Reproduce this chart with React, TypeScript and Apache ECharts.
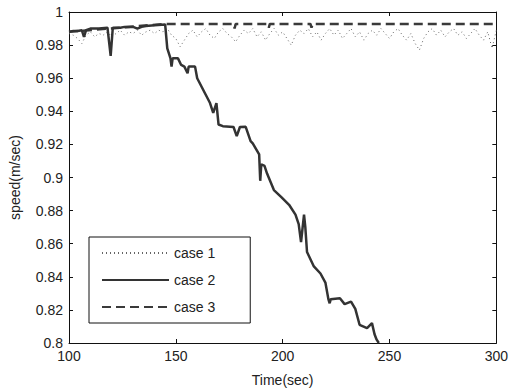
import React, { useEffect, useRef } from "react";
import * as echarts from "echarts";

const xTicks = [100, 150, 200, 250, 300];
const yTickLabels = ["0.8", "0.82", "0.84", "0.86", "0.88", "0.9", "0.92", "0.94", "0.96", "0.98", "1"];

const case1Time = [
  100, 102, 104, 106, 108, 110, 112, 114, 116, 118, 120, 122, 124, 126, 128, 130, 132, 134, 136, 138,
  140, 142, 144, 146, 148, 150, 152, 154, 156, 158, 160, 162, 164, 166, 168, 170, 172, 174, 176, 178,
  180, 182, 184, 186, 188, 190, 192, 194, 196, 198, 200, 202, 204, 206, 208, 210, 212, 214, 216, 218,
  220, 222, 224, 226, 228, 230, 232, 234, 236, 238, 240, 242, 244, 246, 248, 250, 252, 254, 256, 258,
  260, 262, 264, 266, 268, 270, 272, 274, 276, 278, 280, 282, 284, 286, 288, 290, 292, 294, 296, 298, 300,
];
const case1Speed = [
  0.987, 0.986, 0.984, 0.981, 0.986, 0.988, 0.985, 0.987, 0.986, 0.988, 0.985, 0.987, 0.989, 0.986, 0.988, 0.987, 0.989, 0.986, 0.988, 0.989,
  0.987, 0.989, 0.988, 0.990, 0.986, 0.984, 0.979, 0.983, 0.987, 0.989, 0.985, 0.988, 0.990, 0.986, 0.984, 0.988, 0.990, 0.987, 0.985, 0.982,
  0.986, 0.989, 0.987, 0.990, 0.985, 0.988, 0.983, 0.987, 0.990, 0.986, 0.988, 0.984, 0.980, 0.986, 0.989, 0.987, 0.990, 0.985, 0.988, 0.983,
  0.987, 0.990, 0.986, 0.989, 0.984, 0.987, 0.990, 0.985, 0.988, 0.983, 0.987, 0.989, 0.986, 0.990, 0.987, 0.984, 0.988, 0.990, 0.986, 0.983,
  0.987, 0.981, 0.977, 0.984, 0.988, 0.990, 0.986, 0.989, 0.985, 0.988, 0.990, 0.986, 0.988, 0.984, 0.987, 0.990, 0.986, 0.983, 0.988, 0.978, 0.989,
];

const case2Time = [
  100, 102, 104, 106, 107, 108, 110, 114, 118, 119.5, 120.5, 124, 126, 130, 132, 134, 136, 140, 145,
  146, 147.5, 148, 148.5, 151, 152.5, 154, 155.5, 156, 159, 160, 162, 164, 166, 167.5, 169, 170, 172, 177,
  178.5, 180, 182.7, 185, 186, 189, 189.5, 190, 191.5, 192.7, 195.9, 199.5, 203, 206, 207.5, 208.6, 209.2,
  210, 210.6, 211.4, 214.5, 217.7, 220, 221.4, 222, 222.5, 226.8, 229, 232, 234, 236, 239.5, 241.8, 243, 244, 245,
];
const case2Speed = [
  0.988, 0.9885, 0.9885, 0.989, 0.985, 0.989, 0.990, 0.990, 0.9905, 0.9735, 0.9905, 0.9905, 0.991, 0.991, 0.990, 0.991, 0.9915, 0.992, 0.9925,
  0.978, 0.972, 0.967, 0.972, 0.972, 0.968, 0.967, 0.963, 0.967, 0.967, 0.960, 0.955, 0.950, 0.945, 0.939, 0.945, 0.932, 0.931, 0.9305,
  0.925, 0.9305, 0.9306, 0.922, 0.9206, 0.914, 0.898, 0.908, 0.907, 0.9024, 0.8924, 0.888, 0.8835, 0.8776, 0.8718, 0.861, 0.868,
  0.8776, 0.870, 0.855, 0.8465, 0.842, 0.8365, 0.8265, 0.824, 0.8265, 0.827, 0.8235, 0.825, 0.8206, 0.811, 0.809, 0.812, 0.8053, 0.802, 0.8,
];

const case3Time = [100, 145, 177, 177.5, 178, 193, 193.5, 194, 213, 213.5, 214, 300];
const case3Speed = [0.988, 0.9928, 0.9928, 0.990, 0.9928, 0.9928, 0.9905, 0.9928, 0.9928, 0.9905, 0.9928, 0.9928];

const seriesNames = ["case 1", "case 2", "case 3"];

const zip = (t: number[], v: number[]) => t.map((x, i) => [x, v[i]]);

export default function App() {
  const ref = useRef<HTMLDivElement>(null);
  useEffect(() => {
    if (!ref.current) return;
    const chart = echarts.init(ref.current, undefined, { renderer: "svg" });
    const font = "'Liberation Sans', Arial, sans-serif";
    const fmtY = (v: number) => {
      const s = parseFloat(v.toFixed(2)).toString();
      return yTickLabels.includes(s) ? s : "";
    };
    const fmtX = (v: number) => (xTicks.includes(Math.round(v)) ? String(Math.round(v)) : "");
    const baseX = {
      type: "value" as const,
      min: 100,
      max: 300,
      interval: 50,
      splitLine: { show: false },
      axisLine: { show: true, lineStyle: { color: "#111", width: 1 } },
      axisTick: { show: true, inside: true, length: 4, lineStyle: { color: "#111" } },
    };
    const baseY = {
      type: "value" as const,
      min: 0.8,
      max: 1,
      interval: 0.02,
      splitLine: { show: false },
      axisLine: { show: true, lineStyle: { color: "#111", width: 1 } },
      axisTick: { show: true, inside: true, length: 4, lineStyle: { color: "#111" } },
    };
    chart.setOption({
      animation: false,
      backgroundColor: "#fff",
      textStyle: { fontFamily: font },
      grid: { left: 61, right: 10, top: 12, bottom: 40, containLabel: false },
      xAxis: [
        {
          ...baseX,
          position: "bottom",
          name: "Time(sec)",
          nameLocation: "middle",
          nameGap: 30,
          nameTextStyle: { color: "#222", fontSize: 14, fontFamily: font },
          axisLabel: { color: "#222", fontSize: 14, margin: 6, fontFamily: font, formatter: fmtX },
        },
        { ...baseX, position: "top", axisLabel: { show: false } },
      ],
      yAxis: [
        {
          ...baseY,
          position: "left",
          name: "speed(m/sec)",
          nameLocation: "middle",
          nameGap: 47,
          nameTextStyle: { color: "#222", fontSize: 14, fontFamily: font },
          axisLabel: { color: "#222", fontSize: 14, margin: 6, fontFamily: font, formatter: fmtY },
        },
        { ...baseY, position: "right", axisLabel: { show: false } },
      ],
      legend: {
        orient: "vertical",
        left: 89,
        top: 237,
        padding: [9, 35, 9, 12],
        itemGap: 13,
        itemWidth: 67,
        itemHeight: 14,
        borderColor: "#111",
        borderWidth: 1,
        backgroundColor: "#fff",
        itemStyle: { opacity: 0 },
        textStyle: { color: "#222", fontSize: 14, fontFamily: font },
        data: seriesNames,
      },
      series: [
        {
          name: seriesNames[0],
          type: "line",
          data: zip(case1Time, case1Speed),
          showSymbol: false,
          symbol: "none",
          lineStyle: { color: "#666", width: 1, type: [1, 3] },
          itemStyle: { color: "#666" },
          z: 1,
        },
        {
          name: seriesNames[2],
          type: "line",
          data: zip(case3Time, case3Speed),
          showSymbol: false,
          symbol: "none",
          lineStyle: { color: "#3a3a3a", width: 2.5, type: [9, 5] },
          itemStyle: { color: "#3a3a3a" },
          z: 2,
        },
        {
          name: seriesNames[1],
          type: "line",
          data: zip(case2Time, case2Speed),
          showSymbol: false,
          symbol: "none",
          lineStyle: { color: "#333", width: 2.5 },
          itemStyle: { color: "#333" },
          z: 3,
        },
      ],
    });
    return () => chart.dispose();
  }, []);
  return (
    <div
      ref={ref}
      style={{ position: "fixed", left: 0, top: 0, width: 511, height: 392, background: "#fff" }}
    />
  );
}
